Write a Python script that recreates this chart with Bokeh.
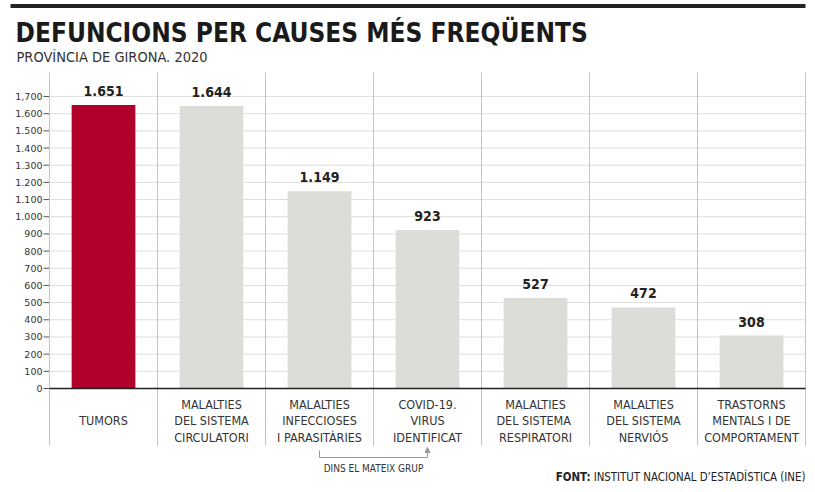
from bokeh.plotting import figure
from bokeh.models import (Range1d, BoxAnnotation, ColumnDataSource, Arrow, NormalHead)
from bokeh.core.properties import value
from bokeh.embed import file_html
from bokeh.resources import INLINE

# ---- data ----
categories = ["TUMORS",
              "MALALTIES\nDEL SISTEMA\nCIRCULATORI",
              "MALALTIES\nINFECCIOSES\nI PARASITÀRIES",
              "COVID-19.\nVIRUS\nIDENTIFICAT",
              "MALALTIES\nDEL  SISTEMA\nRESPIRATORI",
              "MALALTIES\nDEL SISTEMA\nNERVIÓS",
              "TRASTORNS\nMENTALS I DE\nCOMPORTAMENT"]
deaths = [1651, 1644, 1149, 923, 527, 472, 308]
bar_colors = ["#b0002b", "#dcdcd8", "#dcdcd8", "#dcdcd8", "#dcdcd8", "#dcdcd8", "#dcdcd8"]
y_ticks = [0, 100, 200, 300, 400, 500, 600, 700, 800, 900, 1000, 1100, 1200,
           1300, 1400, 1500, 1600, 1700]
y_tick_labels = ["0", "100", "200", "300", "400", "500", "600", "700", "800", "900",
                 "1.000", "1.100", "1.200", "1.300", "1.400", "1.500", "1.600", "1,700"]

COND = "'Liberation Sans Narrow', 'DejaVu Sans Condensed', 'Roboto', sans-serif"

# page-pixel geometry helpers (layout only)
W, H = 815, 492
FRAME_L, FRAME_R = 49, 805      # page px of category area
ZERO_Y, TOP_Y = 388, 96          # page px of 0 and 1700
K = (ZERO_Y - TOP_Y) / 1700.0
n = len(categories)
CW = (FRAME_R - FRAME_L) / n

def dy(page_y):
    return (ZERO_Y - page_y) / K

def dx(page_x):
    return (page_x - FRAME_L) / CW

p = figure(width=W, height=H, output_backend="svg", toolbar_location=None,
           x_range=Range1d(dx(0), dx(W)), y_range=Range1d(dy(H), dy(0)),
           min_border=0, x_axis_location=None, y_axis_location=None)
p.outline_line_color = None
p.background_fill_color = "white"
p.border_fill_color = "white"
p.xgrid.visible = False
p.ygrid.visible = False

# horizontal grid lines at the y ticks
p.segment(x0=[0] * len(y_ticks), x1=[n] * len(y_ticks), y0=y_ticks, y1=y_ticks,
          line_color="#dedede", line_width=1)

# y tick marks and labels
p.segment(x0=[dx(43)] * len(y_ticks), x1=[0] * len(y_ticks), y0=y_ticks, y1=y_ticks,
          line_color="#555555", line_width=1)
p.text(x=[dx(42)] * len(y_ticks), y=y_ticks, text=y_tick_labels, text_align="right",
       text_baseline="middle", text_font=value("DejaVu Sans"), text_font_size="9.5px",
       text_color="#333333")

# vertical separators
xs_sep = [[i, i] for i in range(n + 1)]
ys_sep = [[dy(445), dy(72)] for _ in range(n + 1)]
p.multi_line(xs_sep, ys_sep, line_color="#c4c4c4", line_width=1)

# bars
centers = [i + 0.5 for i in range(n)]
src = ColumnDataSource(dict(x=centers, top=deaths, color=bar_colors,
                            lab=[f"{v:,}".replace(",", ".") for v in deaths],
                            cat=categories))
p.vbar(x="x", top="top", width=0.59, bottom=0, fill_color="color", line_color=None, source=src)

# zero line
p.segment(x0=[0], x1=[n], y0=[0], y1=[0], line_color="#222222", line_width=1.3)

# value labels
p.text(x="x", y="top", text="lab", source=src, text_align="center", text_baseline="middle",
       y_offset=-14, text_font=value(COND), text_font_style="bold", text_font_size="14px",
       text_color="#222222")

# category labels
p.text(x="x", y=0, text="cat", source=src, text_align="center", text_baseline="middle",
       y_offset=32, text_font=value(COND), text_font_size="12.5px", text_color="#333333",
       text_line_height=1.1)

# bracket
p.multi_line([[2.5, 2.5, 3.5, 3.5]], [[dy(450), dy(457), dy(457), dy(449)]],
             line_color="#999999", line_width=1)
p.add_layout(Arrow(end=NormalHead(size=5, fill_color="#999999", line_color="#999999"),
                   x_start=3.5, y_start=dy(452), x_end=3.5, y_end=dy(447),
                   line_color="#999999", line_width=1))
p.text(x=[3.0], y=[dy(468)], text=["DINS EL MATEIX GRUP"], text_align="center",
       text_baseline="middle", text_font=value(COND), text_font_size="10px",
       text_color="#333333")

# title block
p.add_layout(BoxAnnotation(left=dx(10), right=dx(805), bottom=dy(7.5), top=dy(3.5),
                           fill_color="#222222", fill_alpha=1, line_color=None))
p.text(x=[dx(15)], y=[dy(32)], text=["DEFUNCIONS PER CAUSES MÉS FREQÜENTS"],
       text_font=value(COND), text_font_style="bold", text_font_size="26px",
       text_color="#1a1a1a", text_baseline="middle")
p.text(x=[dx(16)], y=[dy(56)], text=["PROVÍNCIA DE GIRONA. 2020"],
       text_font=value(COND), text_font_size="14.5px", text_color="#333333",
       text_baseline="middle")

# source
p.text(x=[dx(805)], y=[dy(476)], text=["INSTITUT NACIONAL D’ESTADÍSTICA (INE)"],
       text_font=value(COND), text_font_size="11.4px", text_color="#222222",
       text_align="right", text_baseline="middle")
p.text(x=[dx(590)], y=[dy(476)], text=["FONT:"],
       text_font=value(COND), text_font_style="bold", text_font_size="11.4px",
       text_color="#222222", text_align="right", text_baseline="middle")

open("out.html", "w").write(file_html(p, INLINE))
